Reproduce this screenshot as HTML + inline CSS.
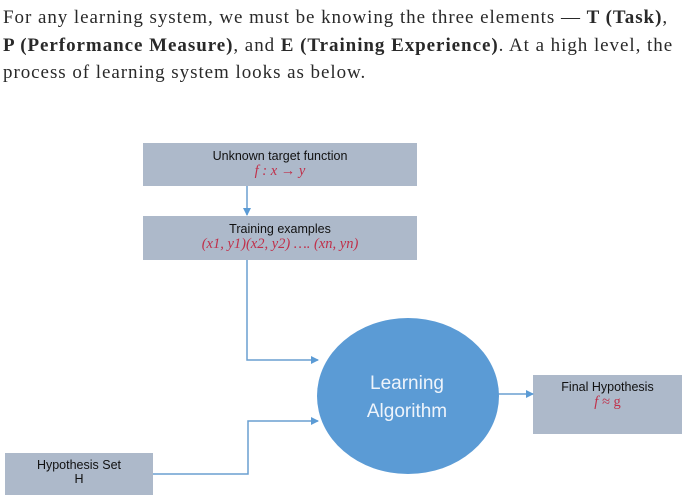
<!DOCTYPE html>
<html><head><style>
body{margin:0;width:682px;height:501px;background:#fff;position:relative;overflow:hidden}
.p{position:absolute;left:3px;top:4px;width:690px;font-family:"Liberation Serif",serif;font-size:19px;letter-spacing:0.95px;line-height:27.5px;color:#292929;white-space:nowrap}
.b{position:absolute;background:#adb9ca;font-family:"Liberation Sans",sans-serif;font-size:12.5px;color:#111;text-align:center}
.m{color:#c0304a;font-family:"Liberation Serif",serif;font-style:italic;font-size:14.5px}
</style></head><body>
<div class="p">For any learning system, we must be knowing the three elements — <b>T (Task)</b>,<br><b>P (Performance Measure)</b>, and <b>E (Training Experience)</b>. At a high level, the<br>process of learning system looks as below.</div>
<div class="b" style="left:143px;top:143px;width:274px;height:43px"><div style="margin-top:6px">Unknown target function</div><div class="m">f : x → y</div></div>
<div class="b" style="left:143px;top:216px;width:274px;height:44px"><div style="margin-top:6px">Training examples</div><div class="m">(x1, y1)(x2, y2) …. (xn, yn)</div></div>
<div class="b" style="left:5px;top:453px;width:148px;height:42px"><div style="margin-top:5px">Hypothesis Set</div><div>H</div></div>
<div class="b" style="left:533px;top:375px;width:149px;height:59px"><div style="margin-top:5px">Final Hypothesis</div><div class="m">f ≈ <span style="font-style:normal">g</span></div></div>
<svg style="position:absolute;left:0;top:0" width="682" height="501">
<defs><marker id="a" markerWidth="8" markerHeight="8" refX="7" refY="4" orient="auto" markerUnits="userSpaceOnUse"><path d="M0,0L8,4L0,8z" fill="#5b9bd5"/></marker></defs>
<g stroke="#6a9fd0" stroke-width="1.5" fill="none">
<path d="M247,186V215" marker-end="url(#a)"/>
<path d="M247,260V360H318" marker-end="url(#a)"/>
<path d="M153,474H248V421H318" marker-end="url(#a)"/>
<path d="M497,394H533" marker-end="url(#a)"/>
</g>
<ellipse cx="408" cy="396" rx="91" ry="78" fill="#5b9bd5"/>
<text x="407" y="389" text-anchor="middle" font-family="Liberation Sans,sans-serif" font-size="19" fill="#eef4fb">Learning</text>
<text x="407" y="417" text-anchor="middle" font-family="Liberation Sans,sans-serif" font-size="19" fill="#eef4fb">Algorithm</text>
</svg>
</body></html>
